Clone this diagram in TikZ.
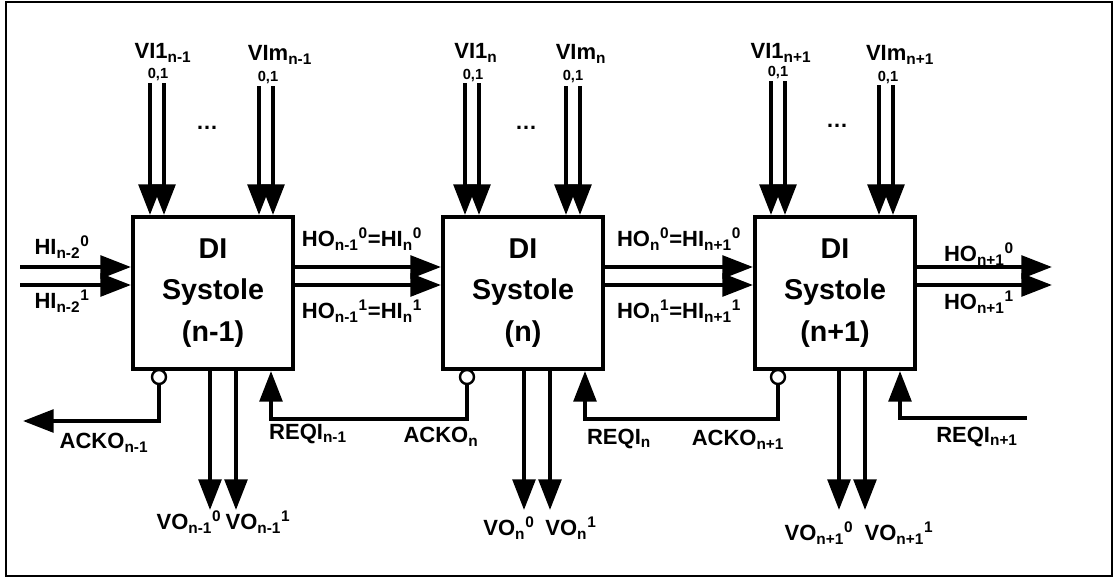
\documentclass[tikz,border=0pt]{standalone}
\usepackage{fontspec}
\setmainfont{Liberation Sans}
\usetikzlibrary{arrows.meta,positioning,calc}

\begin{document}
\begin{tikzpicture}[
    x=0.75pt, y=-0.75pt,
    systole/.style={draw, line width=3pt, minimum width=120pt, minimum height=114pt, align=center, font=\fontsize{21.5}{31}\selectfont\bfseries},
    lbl/.style={inner sep=0pt, font=\fontsize{16.5}{18}\selectfont\bfseries},
    bits/.style={inner sep=0pt, font=\fontsize{11}{12}\selectfont\bfseries},
    ackc/.style={draw, circle, line width=1.8pt, fill=white, minimum size=10.5pt, inner sep=0pt},
    wire/.style={line width=2.9pt, -{Triangle[length=23pt,width=17pt]}}
]
    \useasboundingbox (0,0) rectangle (1120,579);
    \draw[line width=1.5pt] (6,2) rectangle (1112,576);

    \node[systole] (s1) at (213,293) {DI\\Systole\\(n-1)};
    \node[systole] (s2) at (523,293) {DI\\Systole\\(n)};
    \node[systole] (s3) at (835,293) {DI\\Systole\\(n+1)};

    \coordinate (v1a) at (150,83);
    \coordinate (v1b) at (164,83);
    \coordinate (v1c) at (259,86);
    \coordinate (v1d) at (273,86);
    \coordinate (v2a) at (465,83);
    \coordinate (v2b) at (479,83);
    \coordinate (v2c) at (566,86);
    \coordinate (v2d) at (580,86);
    \coordinate (v3a) at (771,81);
    \coordinate (v3b) at (785,81);
    \coordinate (v3c) at (879,85);
    \coordinate (v3d) at (893,85);
    \draw[wire] (v1a) -- (v1a |- s1.north);
    \draw[wire] (v1b) -- (v1b |- s1.north);
    \draw[wire] (v1c) -- (v1c |- s1.north);
    \draw[wire] (v1d) -- (v1d |- s1.north);
    \draw[wire] (v2a) -- (v2a |- s2.north);
    \draw[wire] (v2b) -- (v2b |- s2.north);
    \draw[wire] (v2c) -- (v2c |- s2.north);
    \draw[wire] (v2d) -- (v2d |- s2.north);
    \draw[wire] (v3a) -- (v3a |- s3.north);
    \draw[wire] (v3b) -- (v3b |- s3.north);
    \draw[wire] (v3c) -- (v3c |- s3.north);
    \draw[wire] (v3d) -- (v3d |- s3.north);

    \node[lbl] (vi1a) at (163,53) {VI1\textsubscript{n-1}};
    \node[bits] (b1a) at (158,75) {0,1};
    \node[lbl] (vim1) at (280,55) {VIm\textsubscript{n-1}};
    \node[bits] (b1b) at (268,78) {0,1};
    \node[lbl] (dots1) at (207,128) {\dots};
    \node[lbl] (vi2a) at (476,53) {VI1\textsubscript{n}};
    \node[bits] (b2a) at (473,76) {0,1};
    \node[lbl] (vim2) at (581,54) {VIm\textsubscript{n}};
    \node[bits] (b2b) at (573,77) {0,1};
    \node[lbl] (dots2) at (526,128) {\dots};
    \node[lbl] (vi3a) at (781,53) {VI1\textsubscript{n+1}};
    \node[bits] (b3a) at (778,73) {0,1};
    \node[lbl] (vim3) at (900,55) {VIm\textsubscript{n+1}};
    \node[bits] (b3b) at (888,78) {0,1};
    \node[lbl] (dots3) at (837,126) {\dots};

    \coordinate (hi0) at (20,267);
    \coordinate (hi1) at (20,285);
    \coordinate (ho0) at (1052,267);
    \coordinate (ho1) at (1052,285);
    \draw[wire] (hi0) -- (hi0 -| s1.west);
    \draw[wire] (hi1) -- (hi1 -| s1.west);
    \draw[wire] (s1.east |- hi0) -- (s2.west |- hi0);
    \draw[wire] (s1.east |- hi1) -- (s2.west |- hi1);
    \draw[wire] (s2.east |- hi0) -- (s3.west |- hi0);
    \draw[wire] (s2.east |- hi1) -- (s3.west |- hi1);
    \draw[wire] (s3.east |- ho0) -- (ho0);
    \draw[wire] (s3.east |- ho1) -- (ho1);

    \node[lbl] (hin0) at (62,247) {HI\textsubscript{n-2}\textsuperscript{0}};
    \node[lbl] (hin1) at (62,301) {HI\textsubscript{n-2}\textsuperscript{1}};
    \node[lbl] (ho10) at (362,239) {HO\textsubscript{n-1}\textsuperscript{0}=HI\textsubscript{n}\textsuperscript{0}};
    \node[lbl] (ho11) at (362,311) {HO\textsubscript{n-1}\textsuperscript{1}=HI\textsubscript{n}\textsuperscript{1}};
    \node[lbl] (ho20) at (679,239) {HO\textsubscript{n}\textsuperscript{0}=HI\textsubscript{n+1}\textsuperscript{0}};
    \node[lbl] (ho21) at (679,311) {HO\textsubscript{n}\textsuperscript{1}=HI\textsubscript{n+1}\textsuperscript{1}};
    \node[lbl] (ho30) at (979,254) {HO\textsubscript{n+1}\textsuperscript{0}};
    \node[lbl] (ho31) at (979,302) {HO\textsubscript{n+1}\textsuperscript{1}};

    \node[ackc] (a1) at (159,377) {};
    \node[ackc] (a2) at (467,377) {};
    \node[ackc] (a3) at (778,377) {};
    \coordinate (ackout) at (23,421);
    \coordinate (r1) at (271,419);
    \coordinate (r2) at (585,419);
    \coordinate (r3) at (900,418);
    \coordinate (reqin) at (1027,418);
    \draw[wire] (a1.south) |- (ackout);
    \draw[wire] (a2.south) |- (r1) -- (r1 |- s1.south);
    \draw[wire] (a3.south) |- (r2) -- (r2 |- s2.south);
    \draw[wire] (reqin) -- (r3) -- (r3 |- s3.south);

    \node[lbl] (ack1) at (104,443) {ACKO\textsubscript{n-1}};
    \node[lbl] (req1) at (308,434) {REQI\textsubscript{n-1}};
    \node[lbl] (ack2) at (441,437) {ACKO\textsubscript{n}};
    \node[lbl] (req2) at (619,439) {REQI\textsubscript{n}};
    \node[lbl] (ack3) at (738,440) {ACKO\textsubscript{n+1}};
    \node[lbl] (req3) at (977,437) {REQI\textsubscript{n+1}};

    \coordinate (o1a) at (210,510);
    \coordinate (o1b) at (236,510);
    \coordinate (o2a) at (524,510);
    \coordinate (o2b) at (550,510);
    \coordinate (o3a) at (839,510);
    \coordinate (o3b) at (865,510);
    \draw[wire] (o1a |- s1.south) -- (o1a);
    \draw[wire] (o1b |- s1.south) -- (o1b);
    \draw[wire] (o2a |- s2.south) -- (o2a);
    \draw[wire] (o2b |- s2.south) -- (o2b);
    \draw[wire] (o3a |- s3.south) -- (o3a);
    \draw[wire] (o3b |- s3.south) -- (o3b);

    \node[lbl] (vo10) at (189,522) {VO\textsubscript{n-1}\textsuperscript{0}};
    \node[lbl] (vo11) at (258,522) {VO\textsubscript{n-1}\textsuperscript{1}};
    \node[lbl] (vo20) at (509,528) {VO\textsubscript{n}\textsuperscript{0}};
    \node[lbl] (vo21) at (571,528) {VO\textsubscript{n}\textsuperscript{1}};
    \node[lbl] (vo30) at (819,533) {VO\textsubscript{n+1}\textsuperscript{0}};
    \node[lbl] (vo31) at (899,533) {VO\textsubscript{n+1}\textsuperscript{1}};
\end{tikzpicture}
\end{document}
